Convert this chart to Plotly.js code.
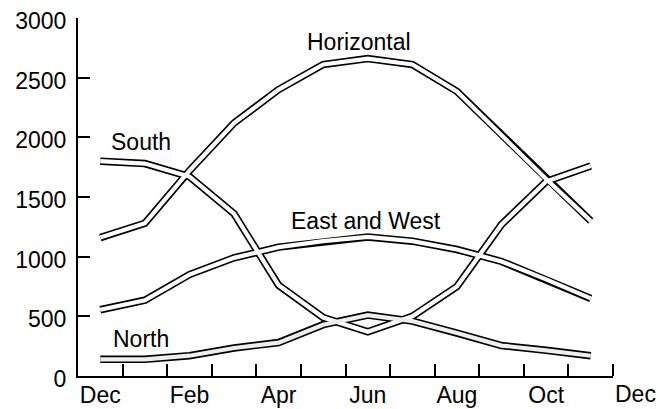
<!DOCTYPE html>
<html>
<head>
<meta charset="utf-8">
<script src="https://cdn.plot.ly/plotly-3.0.1.min.js"></script>
<style>html,body{margin:0;padding:0;background:#fff;}#chart{width:658px;height:409px;}</style>
</head>
<body>
<div id="chart"></div>
<script>
// Month index (data points at month centres, Dec .. Nov)
var months = [0, 1, 2, 3, 4, 5, 6, 7, 8, 9, 10, 11];
var monthNames = ['Dec','Jan','Feb','Mar','Apr','May','Jun','Jul','Aug','Sep','Oct','Nov'];

// Series values
var horizontal = [1160, 1280, 1720, 2120, 2400, 2610, 2660, 2610, 2385, 2020, 1650, 1300];
var south      = [1800, 1780, 1670, 1360, 760, 490, 370, 500, 750, 1270, 1630, 1760];
var eastWest   = [555, 635, 850, 990, 1080, 1130, 1165, 1130, 1060, 960, 810, 650];
var north      = [140, 140, 170, 235, 280, 430, 510, 460, 360, 255, 215, 170];

// Axis ticks
var xRange = [-0.5, 11.5];
var xLabelVals = [0, 2, 4, 6, 8, 10];
var xLabelText = ['Dec', 'Feb', 'Apr', 'Jun', 'Aug', 'Oct'];
var xExtraLabelVal = 12;
var xExtraLabelText = 'Dec';
var xTickVals = [0.5, 1.5, 2.5, 3.5, 4.5, 5.5, 6.5, 7.5, 8.5, 9.5, 10.5, 11.5];
var yTickVals = [0, 500, 1000, 1500, 2000, 2500, 3000];

// Series labels
var seriesLabels = ['Horizontal', 'South', 'East and West', 'North'];
var labelX = [5.8, 0.91, 5.95, 0.91];
var labelY = [2800, 1960, 1300, 310];

var FONT = '"Liberation Sans", Arial, Helvetica, sans-serif';
var series = [horizontal, south, eastWest, north];
var inner = ['#ffffff', '#ffffff', '#ffffff', '#eeeeee'];

var traces = [];
series.forEach(function (s) {
  traces.push({x: months, y: s, mode: 'lines', type: 'scatter', showlegend: false,
    hoverinfo: 'skip', line: {color: '#000', width: 7.5}, cliponaxis: false});
});
series.forEach(function (s, i) {
  traces.push({x: months, y: s, mode: 'lines', type: 'scatter', showlegend: false,
    hoverinfo: 'skip', line: {color: inner[i], width: 4.2}, cliponaxis: false});
});

var annotations = seriesLabels.map(function (t, i) {
  return {text: t, x: labelX[i], y: labelY[i], xref: 'x', yref: 'y', showarrow: false,
    xanchor: 'center', yanchor: 'middle', font: {family: FONT, size: 23, color: '#000'}};
});
// Last "Dec" label lies past the axis end, so place it in paper units derived from the axis range
annotations.push({text: xExtraLabelText,
  x: (xExtraLabelVal - xRange[0]) / (xRange[1] - xRange[0]), y: 0,
  xref: 'paper', yref: 'paper', showarrow: false, xanchor: 'center', yanchor: 'top',
  yshift: -3, font: {family: FONT, size: 23, color: '#000'}});

var layout = {
  width: 658, height: 409,
  margin: {l: 78, r: 45, t: 18, b: 33, pad: 0},
  paper_bgcolor: '#fff', plot_bgcolor: '#fff',
  font: {family: FONT, size: 23, color: '#000'},
  xaxis: {
    range: xRange, showgrid: false, zeroline: false,
    showline: true, linecolor: '#000', linewidth: 2,
    tickmode: 'array', tickvals: xLabelVals, ticktext: xLabelText, ticks: '',
    ticklabelstandoff: -3,
    minor: {tickmode: 'array', tickvals: xTickVals, ticks: 'inside', ticklen: 12,
      tickwidth: 2, tickcolor: '#000', showgrid: false},
    tickfont: {family: FONT, size: 23, color: '#000'}
  },
  yaxis: {
    range: [0, 3000], showgrid: false, zeroline: false,
    showline: true, linecolor: '#000', linewidth: 2,
    tickmode: 'array', tickvals: yTickVals, ticks: 'inside', ticklen: 12,
    tickwidth: 2, tickcolor: '#000', ticklabelstandoff: 5, ticklabelshift: 3,
    tickfont: {family: FONT, size: 23, color: '#000'}
  },
  annotations: annotations
};

Plotly.newPlot('chart', traces, layout, {staticPlot: true, displayModeBar: false});
</script>
</body>
</html>
